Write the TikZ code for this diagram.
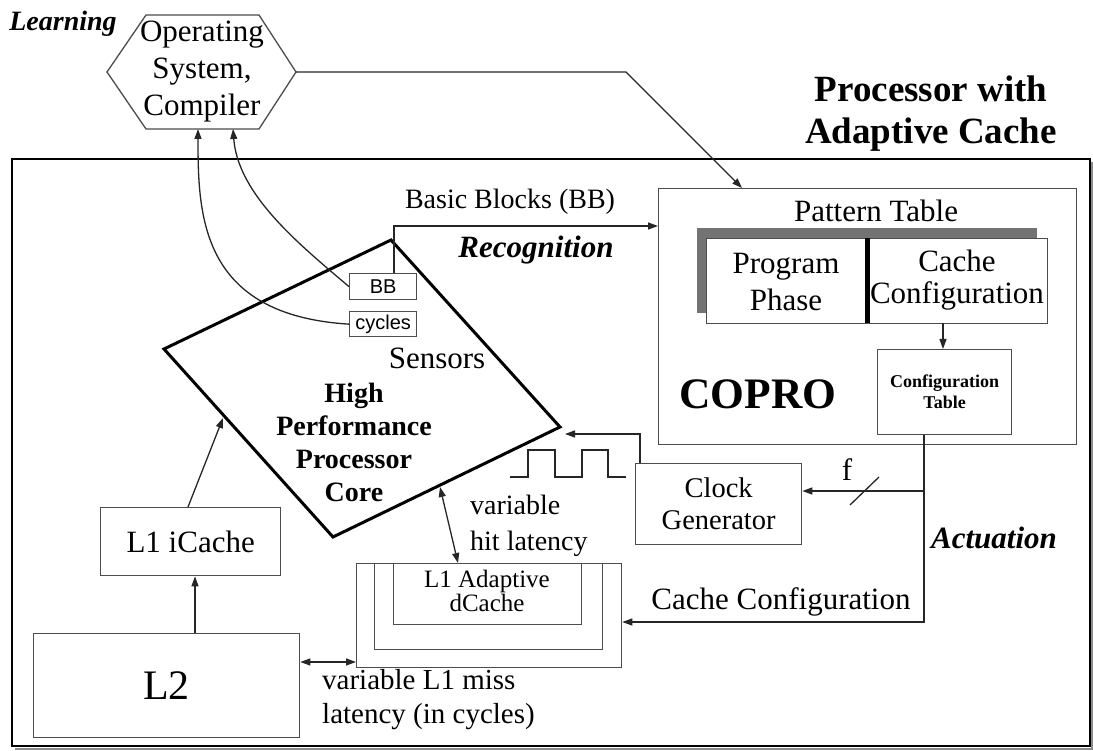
\documentclass[tikz,border=0pt]{standalone}
\usepackage{fontspec}
\setmainfont{Liberation Serif}
\setsansfont{Liberation Sans}
\usetikzlibrary{arrows.meta}
\newcommand\fsz[2]{\fontsize{#1}{#2}\selectfont}
\begin{document}
\begin{tikzpicture}[x=1pt,y=-1pt,
  line/.style={draw=black!85,line width=1.3pt},
  box/.style={draw=black!70,line width=1.3pt,fill=white,inner sep=0pt,anchor=north west},
  tip/.style={line,-{Triangle[length=10pt,width=7pt]}},
  dtip/.style={line,{Triangle[length=10pt,width=7pt]}-{Triangle[length=10pt,width=7pt]}},
  txt/.style={font=\fsz{31}{36},align=center,inner sep=0pt},
  sens/.style={font=\sffamily\fsz{20}{22},inner sep=0pt}
]
\useasboundingbox (0,0) rectangle (1093,751);

% outer frame of the processor, with a drop shadow on its right and bottom
\draw[black!45,line width=2pt] (15,748.5) -- (1092,748.5) -- (1092,162);
\draw[line width=2.4pt] (12,159) rectangle (1090,746);

% title and phase labels
\node[font=\bfseries\fsz{37}{42},align=center,inner sep=0pt] (title) at (931,114) {Processor with\\Adaptive Cache};
\node[font=\bfseries\itshape\fsz{28}{32},inner sep=0pt] (learn) at (63,24) {Learning};
\node[font=\bfseries\itshape\fsz{31}{36},inner sep=0pt] (recog) at (536,250) {Recognition};
\node[font=\bfseries\itshape\fsz{31}{36},inner sep=0pt] (actu) at (994,538) {Actuation};

% operating system / compiler hexagon
\draw[draw=black!70,line width=1.3pt] (146,15) -- (259,15) -- (296,72) -- (259,129) -- (146,129) -- (107,72) -- cycle;
\node[txt,font=\fsz{31}{37}] (os) at (202,72) {Operating\\System,\\Compiler};
\coordinate (osR) at (296,72);
\coordinate (osB1) at (198,129);
\coordinate (osB2) at (233,129);

% COPRO block
\node[box,minimum width=418pt,minimum height=256pt] (copro) at (658,188) {};
\coordinate (coproIn) at (742,188);
\node[txt] (ptlabel) at (876,211) {Pattern Table};
\fill[black!55] (697,228) rectangle (1037,313);
\node[box,minimum width=341pt,minimum height=85pt] (ptab) at (706,238) {};
\draw[line width=5pt] (867,238) -- (867,323);
\node[txt,font=\fsz{31}{37}] (phase) at (786,282) {Program\\Phase};
\node[txt,font=\fsz{31}{32}] (ccfg) at (957,280) {Cache\\Configuration};
\node[box,minimum width=134pt,minimum height=85pt] (ctab) at (877,349) {};
\node[txt,font=\bfseries\fsz{18}{21}] at (ctab.center) {Configuration\\Table};
\node[font=\bfseries\fsz{43.5}{48},inner sep=0pt] (coprolbl) at (758,394) {COPRO};
\draw[tip] (943,323) -- (ctab.north -| 943,0);

% processor core
\coordinate (cT) at (391,240);
\coordinate (cR) at (560,427);
\coordinate (cB) at (333,537);
\coordinate (cL) at (164,349);
\draw[line width=3pt,line join=miter] (cT) -- (cR) -- (cB) -- (cL) -- cycle;
\node[txt,font=\bfseries\fsz{28}{33}] (core) at (354,442) {High\\Performance\\Processor\\Core};
\node[txt] (sens) at (437,358) {Sensors};

% sensors
\node[box,minimum width=67pt,minimum height=26pt] (bb) at (349,273) {};
\node[sens] at (bb.center) {BB};
\node[box,minimum width=67pt,minimum height=25pt] (cyc) at (349,311) {};
\node[sens] at (cyc.center) {cycles};

% caches and clock
\node[box,minimum width=180pt,minimum height=68pt] (ic) at (100,507) {};
\node[txt] at (ic.center) {L1 iCache};
\node[box,minimum width=266pt,minimum height=104pt] (l2) at (33,633) {};
\node[txt,font=\fsz{42}{46}] at (l2.center) {L2};
\node[box,minimum width=265pt,minimum height=104pt] (l1o) at (356,563) {};
\node[box,minimum width=228pt,minimum height=86pt] (l1m) at (374,563) {};
\node[box,minimum width=188pt,minimum height=61pt] (l1i) at (393,563) {};
\node[txt,font=\fsz{25}{22}] at (487,591) {L1 Adaptive\\dCache};
\node[box,minimum width=166pt,minimum height=81pt] (cg) at (635,463) {};
\node[txt,font=\fsz{28.5}{32}] at (cg.center) {Clock\\Generator};

% clock waveform
\draw[line] (510,477) -- (528,477) -- (528,450) -- (555,450) -- (555,477) -- (582,477) -- (582,450) -- (608,450) -- (608,477) -- (626,477);

% learning connections
\draw[tip] (osR) -- (626,72) -- (coproIn);
\draw[tip] (bb.west) .. controls (300,245) and (238,195) .. (osB2);
\draw[tip] (cyc.west) .. controls (200,315) and (198,215) .. (osB1);

% recognition connection
\draw[tip] (bb.north -| 394,0) -- (394,226) -- (copro.west |- 0,226);
\node[txt,font=\fsz{28}{32}] (bblbl) at (510,202) {Basic Blocks (BB)};

% actuation connections
\coordinate (split) at (924,491);
\draw[tip] (ctab.south -| 924,0) -- (924,622) -- (l1o.east |- 0,622);
\draw[tip] (split) -- (cg.east |- split);
\draw[line] (850,505) -- (879,477);
\node[txt] (flbl) at (847,470) {f};
\node[txt] (cclbl) at (781,602) {Cache Configuration};
\draw[tip] (cg.north -| 640,0) -- (640,434) -- (565,434);

% memory paths
\draw[tip] (l2.north -| 195,0) -- (ic.south -| 195,0);
\draw[tip] (ic.north -| 188,0) -- (223,418);
\draw[dtip] (l2.east |- 0,662) -- (l1o.west |- 0,662);
\draw[dtip] (440,487) -- (458,563);
\node[txt,font=\fsz{28}{36},align=left,anchor=west] (hitlbl) at (470,526) {variable\\hit latency};
\node[txt,font=\fsz{29}{34},align=left,anchor=west] (misslbl) at (322,700) {variable L1 miss\\latency (in cycles)};
\end{tikzpicture}
\end{document}
